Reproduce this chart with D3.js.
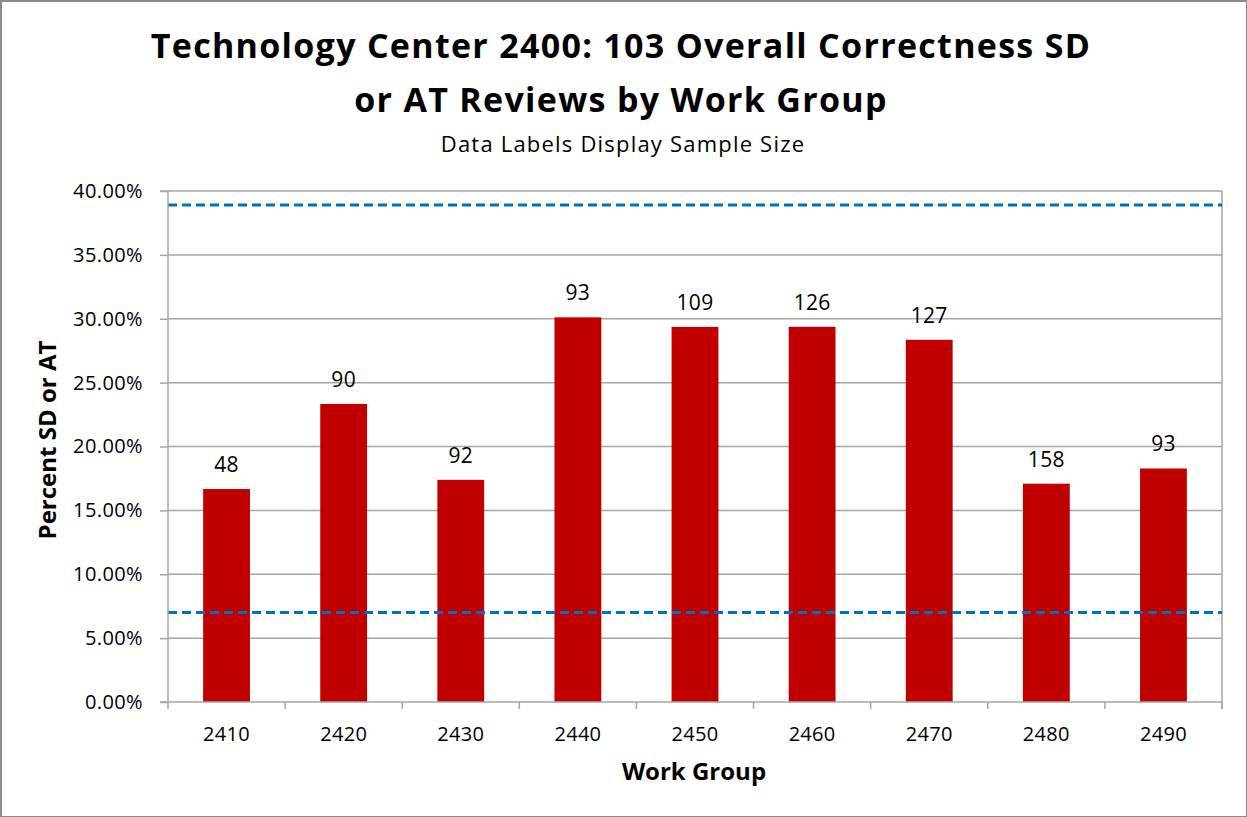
<!DOCTYPE html>
<html>
<head>
<meta charset="utf-8">
<script src="https://cdn.jsdelivr.net/npm/d3@7"></script>
<style>
  body { margin: 0; background: #fff; }
  svg text { font-family: "Open Sans", Lato, sans-serif; fill: #000; }
</style>
</head>
<body>
<div id="chart"></div>
<script>
const groups = ["2410", "2420", "2430", "2440", "2450", "2460", "2470", "2480", "2490"];
const percentSdAt = [16.67, 23.33, 17.39, 30.11, 29.36, 29.37, 28.35, 17.09, 18.28];
const sampleSize = [48, 90, 92, 93, 109, 126, 127, 158, 93];
const limitLines = [38.9, 7.0];
const yTicks = [0, 5, 10, 15, 20, 25, 30, 35, 40];

const layout = {
  width: 1247,
  height: 817,
  marginLeft: 168,
  marginRight: 25,
  marginTop: 191,
  marginBottom: 115
};
const plotW = layout.width - layout.marginLeft - layout.marginRight;
const plotH = layout.height - layout.marginTop - layout.marginBottom;

const svg = d3.select("#chart").append("svg")
  .attr("width", layout.width)
  .attr("height", layout.height);

// outer chart border
svg.append("rect")
  .attr("x", 1).attr("y", 1)
  .attr("width", layout.width - 1).attr("height", layout.height - 1)
  .attr("fill", "none")
  .attr("stroke", "#8c8c8c")
  .attr("stroke-width", 2);

const x = d3.scaleBand()
  .domain(groups)
  .range([0, plotW])
  .paddingInner(0.6)
  .paddingOuter(0.3);

const y = d3.scaleLinear()
  .domain([0, 40])
  .range([plotH, 0]);

const g = svg.append("g")
  .attr("transform", `translate(${layout.marginLeft},${layout.marginTop})`);

// gridlines
g.append("g")
  .selectAll("line")
  .data(yTicks.slice(1))
  .join("line")
  .attr("x1", 0).attr("x2", plotW)
  .attr("y1", d => y(d)).attr("y2", d => y(d))
  .attr("stroke", "#a6a6a6")
  .attr("stroke-width", 1.5);

// right border of plot area
g.append("line")
  .attr("x1", plotW).attr("x2", plotW)
  .attr("y1", 0).attr("y2", plotH + 7)
  .attr("stroke", "#a6a6a6")
  .attr("stroke-width", 1.5);

// bars
g.append("g")
  .selectAll("rect")
  .data(groups)
  .join("rect")
  .attr("x", d => x(d))
  .attr("y", (d, i) => y(percentSdAt[i]))
  .attr("width", x.bandwidth())
  .attr("height", (d, i) => plotH - y(percentSdAt[i]))
  .attr("fill", "#c00000");

// dashed limit lines
g.append("g")
  .selectAll("line")
  .data(limitLines)
  .join("line")
  .attr("x1", 0).attr("x2", plotW)
  .attr("y1", d => y(d)).attr("y2", d => y(d))
  .attr("stroke", "#0070c0")
  .attr("stroke-width", 3)
  .attr("stroke-dasharray", "9,5");

// data labels (sample size)
g.append("g")
  .selectAll("text")
  .data(groups)
  .join("text")
  .attr("x", d => x(d) + x.bandwidth() / 2)
  .attr("y", (d, i) => y(percentSdAt[i]) - 17)
  .attr("text-anchor", "middle")
  .attr("font-size", 21)
  .attr("letter-spacing", 0.3)
  .text((d, i) => sampleSize[i]);

// y axis
const yAxis = g.append("g")
  .call(d3.axisLeft(y).tickValues(yTicks).tickSize(8).tickPadding(17)
    .tickFormat(d => d.toFixed(2) + "%"));
yAxis.selectAll("line, .domain").attr("stroke", "#a6a6a6").attr("stroke-width", 1.5);
yAxis.select(".domain").attr("d", `M-8,${plotH}H0V0H-8`);
yAxis.selectAll("text").attr("font-size", 20).attr("fill", "#000")
  .attr("letter-spacing", 0.4)
  .style("font-family", "'Open Sans', sans-serif");

// x axis: ticks at category boundaries
const xAxisG = g.append("g")
  .attr("transform", `translate(0,${plotH})`);
xAxisG.append("line")
  .attr("x1", 0).attr("x2", plotW)
  .attr("stroke", "#a6a6a6").attr("stroke-width", 1.5);
xAxisG.selectAll(".tick-mark")
  .data(d3.range(groups.length + 1))
  .join("line")
  .attr("class", "tick-mark")
  .attr("x1", i => i * x.step()).attr("x2", i => i * x.step())
  .attr("y1", 0).attr("y2", 7)
  .attr("stroke", "#a6a6a6").attr("stroke-width", 1.5);
xAxisG.selectAll(".tick-label")
  .data(groups)
  .join("text")
  .attr("class", "tick-label")
  .attr("x", d => x(d) + x.bandwidth() / 2)
  .attr("y", 39)
  .attr("text-anchor", "middle")
  .attr("font-size", 20)
  .attr("letter-spacing", 0.3)
  .text(d => d);

// titles
svg.append("text")
  .attr("x", 621).attr("y", 58)
  .attr("text-anchor", "middle")
  .attr("font-size", 34).attr("font-weight", "bold")
  .attr("letter-spacing", 1.3)
  .text("Technology Center 2400: 103 Overall Correctness SD");
svg.append("text")
  .attr("x", 621).attr("y", 112)
  .attr("text-anchor", "middle")
  .attr("font-size", 34).attr("font-weight", "bold")
  .attr("letter-spacing", 1.3)
  .text("or AT Reviews by Work Group");
svg.append("text")
  .attr("x", 623).attr("y", 152)
  .attr("text-anchor", "middle")
  .attr("font-size", 22)
  .attr("letter-spacing", 1.2)
  .text("Data Labels Display Sample Size");

// axis titles
svg.append("text")
  .attr("x", 694).attr("y", 780)
  .attr("text-anchor", "middle")
  .attr("font-size", 24).attr("font-weight", "bold")
  .text("Work Group");
svg.append("text")
  .attr("transform", "translate(56,440) rotate(-90)")
  .attr("text-anchor", "middle")
  .attr("font-size", 24).attr("font-weight", "bold")
  .text("Percent SD or AT");
</script>
</body>
</html>
